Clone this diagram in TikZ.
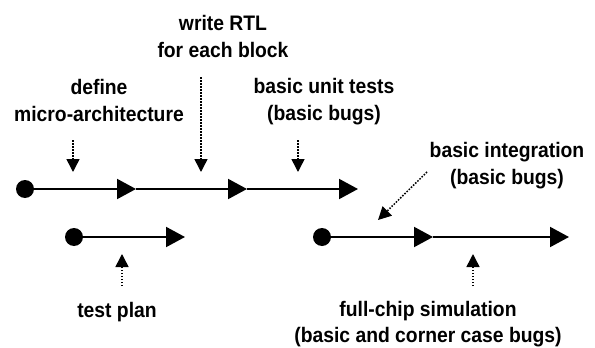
\documentclass[tikz,border=0pt]{standalone}
\usepackage{fontspec}
\setmainfont{Liberation Sans}[FakeStretch=0.92]
\usetikzlibrary{arrows.meta}
\begin{document}
\begin{tikzpicture}[x=1pt,y=-1pt,
  flow/.style={line width=2pt,-{Triangle[length=19pt,width=20pt]}},
  startdot/.style={circle,fill=black,inner sep=0pt,minimum size=18pt},
  hint/.style={line width=1.5pt,dash pattern=on 1.5pt off 1.5pt,
               -{Triangle[length=13pt,width=13pt]}},
  lbl/.style={font=\bfseries\fontsize{21}{26.5}\selectfont,align=center,
              anchor=base,inner sep=0pt}]
\useasboundingbox (0,0) rectangle (595,348);

% labels (anchored at the baseline of their last line)
\node[lbl] (rtl)   at (223,57)    {write RTL\\for each block};
\node[lbl] (uarch) at (99,121)    {define\\micro-architecture};
\node[lbl] (unit)  at (324,120)   {basic unit tests\\(basic bugs)};
\node[lbl] (integ) at (507,184)   {basic integration\\(basic bugs)};
\node[lbl] (plan)  at (117,317)   {test plan};
\node[lbl] (chip)  at (428,342.5) {full-chip simulation\\(basic and corner case bugs)};

% design flow
\node[startdot] (d1) at (25,189) {};
\coordinate (t1) at (136,189);
\coordinate (t2) at (247,189);
\coordinate (t3) at (358,189);
\draw[flow] (d1.center) -- (t1);
\draw[flow] (t1) -- (t2);
\draw[flow] (t2) -- (t3);

% test planning
\node[startdot] (d2) at (74,237) {};
\coordinate (p1) at (185,237);
\draw[flow] (d2.center) -- (p1);

% integration and full-chip runs
\node[startdot] (d3) at (322,237) {};
\coordinate (s1) at (433,237);
\coordinate (s2) at (569,237);
\draw[flow] (d3.center) -- (s1);
\draw[flow] (s1) -- (s2);

% pointers from the labels
\coordinate (a1) at (73,140);  \coordinate (b1) at (73,172);
\coordinate (a2) at (201,77);  \coordinate (b2) at (201,172);
\coordinate (a3) at (298,140); \coordinate (b3) at (298,172);
\coordinate (a4) at (427,172); \coordinate (b4) at (378,220);
\coordinate (a5) at (122,286); \coordinate (b5) at (122,254);
\coordinate (a6) at (473,286); \coordinate (b6) at (473,254);
\draw[hint] (a1) -- (b1);
\draw[hint] (a2) -- (b2);
\draw[hint] (a3) -- (b3);
\draw[hint] (a4) -- (b4);
\draw[hint] (a5) -- (b5);
\draw[hint] (a6) -- (b6);
\end{tikzpicture}
\end{document}
